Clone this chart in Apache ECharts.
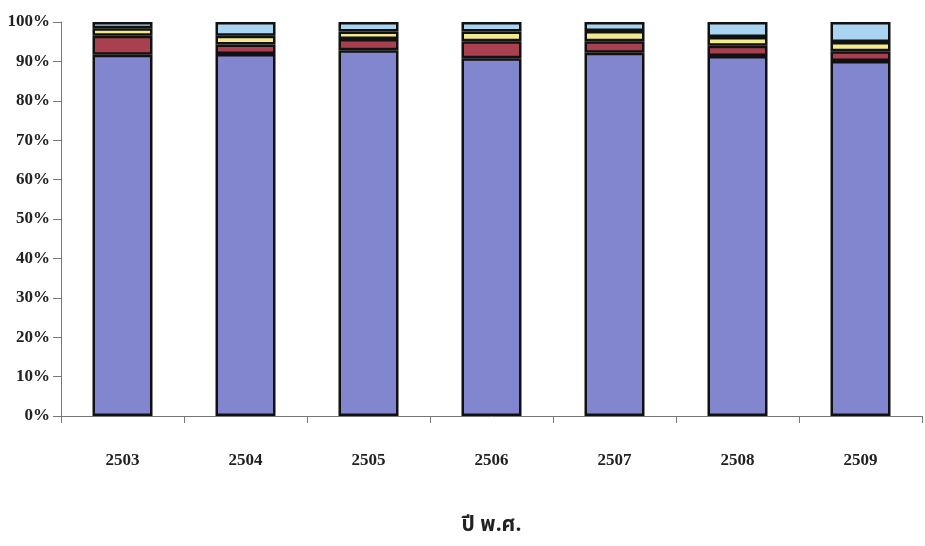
<!DOCTYPE html>
<html>
<head>
<meta charset="utf-8">
<script src="https://cdn.jsdelivr.net/npm/echarts@6/dist/echarts.min.js"></script>
<style>
html,body{margin:0;padding:0;background:#fff;}
#chart{width:925px;height:546px;}
</style>
</head>
<body>
<div id="chart"></div>
<script>
var categories = ['2503','2504','2505','2506','2507','2508','2509'];
var seriesBlue   = [91.7, 91.9, 92.8, 90.8, 92.2, 91.4, 90.1];
var seriesRed    = [4.8, 2.4, 2.9, 4.3, 2.9, 2.6, 2.5];
var seriesYellow = [1.9, 2.2, 1.9, 2.5, 2.6, 2.2, 2.3];
var seriesLight  = [1.6, 3.5, 2.4, 2.4, 2.3, 3.8, 5.1];
var yTicks = ['0%','10%','20%','30%','40%','50%','60%','70%','80%','90%','100%'];
var axisName = 'ปี พ.ศ.';

var font = '"Liberation Serif", "Times New Roman", serif';
function mk(name, data, color) {
  return {
    name: name, type: 'bar', stack: 'total', data: data, barWidth: 60,
    itemStyle: { color: color, borderColor: '#111', borderWidth: 2.5 }
  };
}
var chart = echarts.init(document.getElementById('chart'));
chart.setOption({
  animation: false,
  backgroundColor: '#fff',
  grid: { left: 61, right: 3, top: 22, bottom: 130 },
  xAxis: {
    type: 'category', data: categories,
    axisLine: { lineStyle: { color: '#777', width: 1 } },
    axisTick: { show: true, alignWithLabel: false, length: 7, lineStyle: { color: '#777' } },
    axisLabel: { margin: 36, color: '#222', fontFamily: font, fontWeight: 'bold', fontSize: 17 },
    name: axisName, nameLocation: 'middle', nameGap: 100,
    nameTextStyle: { color: '#222', fontFamily: '"Noto Sans Thai", "Noto Sans", sans-serif', fontWeight: 'bold', fontSize: 21 }
  },
  yAxis: {
    type: 'value', min: 0, max: 100, interval: 10,
    axisLine: { show: true, lineStyle: { color: '#777', width: 1 } },
    axisTick: { show: true, length: 8, lineStyle: { color: '#777' } },
    splitLine: { show: false },
    axisLabel: {
      margin: 11, color: '#222', fontFamily: font, fontWeight: 'bold', fontSize: 17,
      formatter: function (v) { return yTicks[Math.round(v / 10)]; }
    }
  },
  series: [
    mk('s1', seriesBlue, '#8286cf'),
    mk('s2', seriesRed, '#a8404f'),
    mk('s3', seriesYellow, '#f2ea8c'),
    mk('s4', seriesLight, '#a9d5f2')
  ]
});
</script>
</body>
</html>
